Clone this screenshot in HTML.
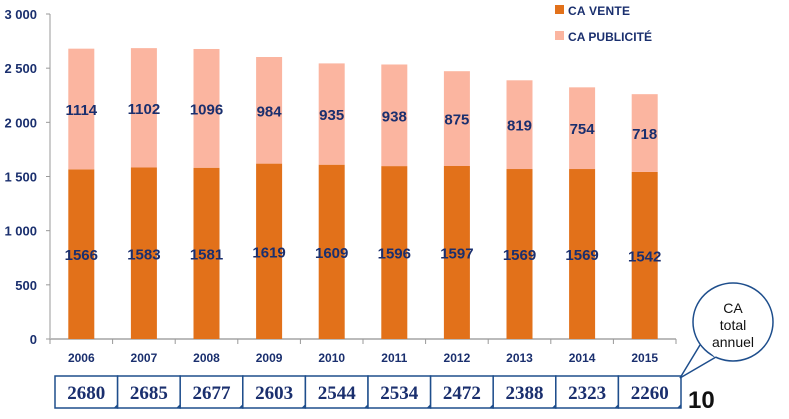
<!DOCTYPE html>
<html><head><meta charset="utf-8"><style>
body{margin:0;background:#fff;}
svg{display:block;font-family:"Liberation Sans",sans-serif;}
</style></head><body>
<svg id="chart" width="789" height="419" viewBox="0 0 789 419">
<g id="axes"></g><g id="bars"></g><g id="labels"></g><g id="totals"></g>
<g>
<rect x="555" y="5" width="9" height="9" fill="#e2711a"/>
<text x="568" y="15" font-size="12" font-weight="bold" fill="#1a2f6e" textLength="62">CA VENTE</text>
<rect x="555" y="31" width="9" height="9" fill="#fbb5a0"/>
<text x="568" y="41" font-size="12" font-weight="bold" fill="#1a2f6e" textLength="84">CA PUBLICITÉ</text>
</g>
<g>
<path d="M700,345 L680,378 L716,357" fill="#fff" stroke="#1e4e8c" stroke-width="1.5"/>
<ellipse cx="733" cy="322" rx="40" ry="39" fill="#fff" stroke="#1e4e8c" stroke-width="1.5"/>
<path d="M702,343 L716,356" stroke="#fff" stroke-width="3"/>
<text x="733" y="313" font-size="14" text-anchor="middle" fill="#111">CA</text>
<text x="733" y="330" font-size="14" text-anchor="middle" fill="#111">total</text>
<text x="733" y="347" font-size="14" text-anchor="middle" fill="#111">annuel</text>
</g>
<text x="688" y="408" font-size="24" font-weight="bold" fill="#111">10</text>
</svg>
<script>
const years=["2006","2007","2008","2009","2010","2011","2012","2013","2014","2015"];
const vente=[1566,1583,1581,1619,1609,1596,1597,1569,1569,1542];
const pub=[1114,1102,1096,984,935,938,875,819,754,718];
const totals=[2680,2685,2677,2603,2544,2534,2472,2388,2323,2260];
const yTicks=[0,500,1000,1500,2000,2500,3000];
const yTickLabels=["0","500","1 000","1 500","2 000","2 500","3 000"];
const NS="http://www.w3.org/2000/svg";
const x0=50,x1=676,y0=339,yTop=14,yMax=3000;
const bw=(x1-x0)/years.length;
function y(v){return y0-(v/yMax)*(y0-yTop);}
function xc(i){return x0+bw*(i+0.5);}
function mk(tag,attrs,parent,txt){const e=document.createElementNS(NS,tag);for(const k in attrs)e.setAttribute(k,attrs[k]);if(txt!==undefined)e.textContent=txt;parent.appendChild(e);return e;}
const axes=document.getElementById('axes'),bars=document.getElementById('bars'),labels=document.getElementById('labels'),tot=document.getElementById('totals');
let a=mk('line',{x1:x0,y1:yTop,x2:x0,y2:y0,stroke:'#999'},axes);


a=mk('line',{x1:x0,y1:y0,x2:x1,y2:y0,stroke:'#bbb','stroke-width':2},axes);


yTicks.forEach((t,i)=>{
 mk('line',{x1:x0-4,y1:y(t),x2:x0,y2:y(t),stroke:'#999'},axes);
 const l=mk('text',{x:37,y:y(t)+5,'font-size':13,'font-weight':'bold',fill:'#1a2f6e','text-anchor':'end'},axes,yTickLabels[i]);
 
 
});
for(let i=0;i<=years.length;i++)mk('line',{x1:x0+bw*i,y1:y0,x2:x0+bw*i,y2:y0+5,stroke:'#999'},axes);
years.forEach((yr,i)=>{
 const c=xc(i);
 const r1=mk('rect',{x:c-13,y:y(vente[i]),width:26,height:y0-y(vente[i]),fill:'#e2711a'},bars);
 
 
 const r2=mk('rect',{x:c-13,y:y(vente[i]+pub[i]),width:26,height:y(vente[i])-y(vente[i]+pub[i]),fill:'#fbb5a0'},bars);
 
 
 const t1=mk('text',{x:c,y:y(vente[i]/2)+6,'font-size':15,'font-weight':'bold',fill:'#1a2f6e','text-anchor':'middle'},labels,String(vente[i]));
 
 
 const t2=mk('text',{x:c,y:y(vente[i]+pub[i]/2)+6,'font-size':15,'font-weight':'bold',fill:'#1a2f6e','text-anchor':'middle'},labels,String(pub[i]));
 
 
 const xl=mk('text',{x:c,y:362,'font-size':12,'font-weight':'bold',fill:'#1a2f6e','text-anchor':'middle'},labels,yr);
 
 
 const bx=x0+5+bw*i;
 const b=mk('rect',{x:bx,y:376,width:bw,height:32,fill:'#fff',stroke:'#1e4e8c','stroke-width':1.5},tot);
 
 
 mk('path',{d:`M${bx+bw-4},408 L${bx+bw},404 L${bx+bw},408Z`,fill:'#1e4e8c'},tot);
 const tt=mk('text',{x:bx+bw/2,y:399,'font-size':19,'font-weight':'bold','font-family':'Liberation Serif,serif',fill:'#1a2f6e','text-anchor':'middle'},tot,String(totals[i]));
 
 
});
</script>
</body></html>
